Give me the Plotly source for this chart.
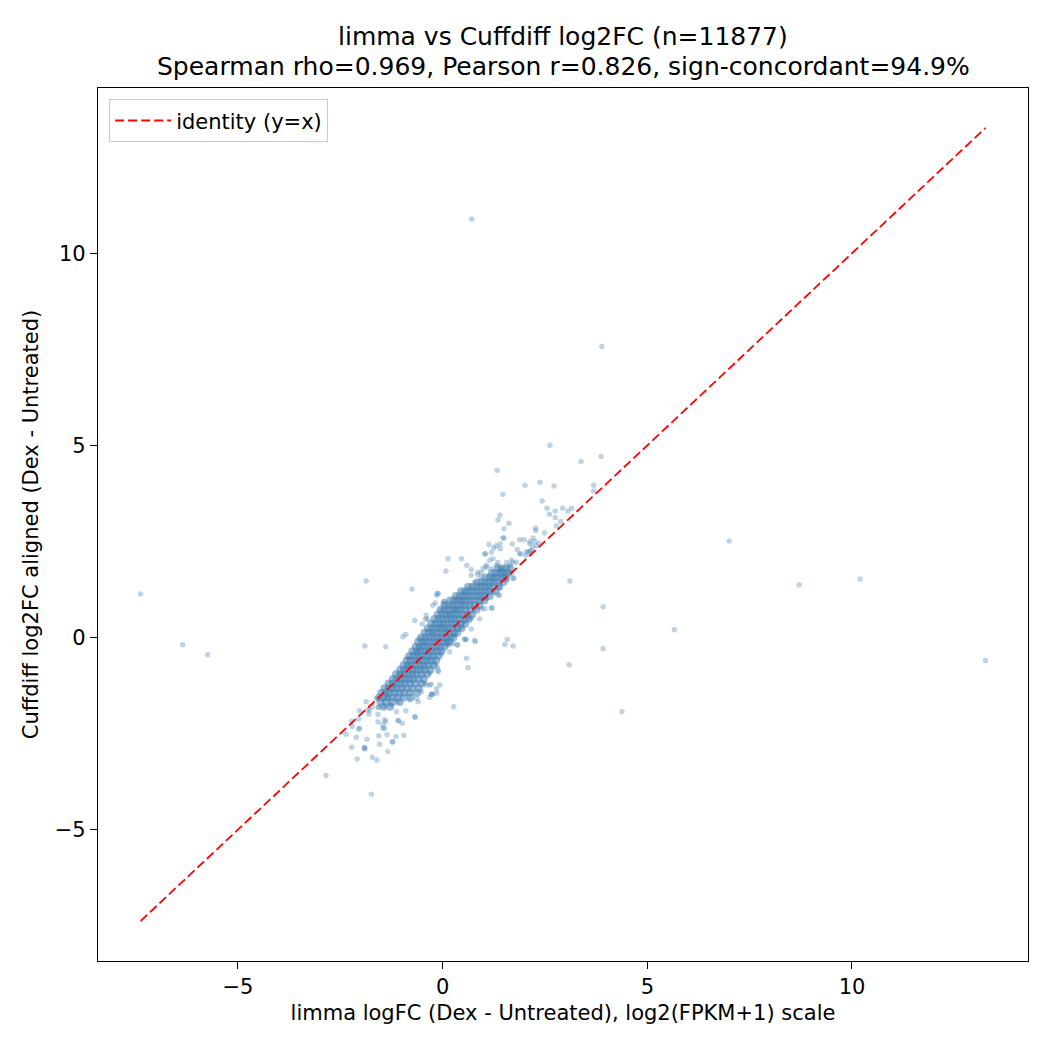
"""
Scatter of limma logFC against Cuffdiff log2FC with an identity line.
"""
import plotly.graph_objects as go

TITLE_LINES = ["limma vs Cuffdiff log2FC (n=11877)",
               "Spearman rho=0.969, Pearson r=0.826, sign-concordant=94.9%"]
X_LABEL = "limma logFC (Dex - Untreated), log2(FPKM+1) scale"
Y_LABEL = "Cuffdiff log2FC aligned (Dex - Untreated)"
TICK_VALS = [-5, 0, 5, 10]

# dense band of genes, read row by row: (cuffdiff value, [limma values])
core_rows = [
    (1.80, [1.35, 1.45, 1.55, 1.65]),
    (1.68, [1.20, 1.30, 1.40, 1.50, 1.60]),
    (1.56, [1.05, 1.15, 1.25, 1.35, 1.45, 1.55]),
    (1.44, [0.85, 0.95, 1.05, 1.15, 1.25, 1.35, 1.48]),
    (1.32, [0.62, 0.72, 0.82, 0.92, 1.02, 1.12, 1.22, 1.38]),
    (1.20, [0.45, 0.55, 0.65, 0.75, 0.85, 0.95, 1.05, 1.15, 1.30]),
    (1.08, [0.32, 0.42, 0.52, 0.62, 0.72, 0.82, 0.92, 1.02, 1.15]),
    (0.96, [0.18, 0.28, 0.38, 0.48, 0.58, 0.68, 0.78, 0.90, 1.02]),
    (0.84, [0.05, 0.15, 0.25, 0.35, 0.45, 0.55, 0.65, 0.78, 0.90]),
    (0.72, [-0.05, 0.05, 0.15, 0.25, 0.35, 0.45, 0.55, 0.68, 0.82]),
    (0.60, [-0.12, -0.02, 0.08, 0.18, 0.28, 0.38, 0.48, 0.60, 0.72]),
    (0.48, [-0.20, -0.10, 0.00, 0.10, 0.20, 0.30, 0.40, 0.52, 0.64]),
    (0.36, [-0.28, -0.18, -0.08, 0.02, 0.12, 0.22, 0.32, 0.44, 0.55]),
    (0.24, [-0.36, -0.26, -0.16, -0.06, 0.04, 0.14, 0.24, 0.36, 0.46]),
    (0.12, [-0.44, -0.34, -0.24, -0.14, -0.04, 0.06, 0.16, 0.28, 0.36]),
    (0.00, [-0.52, -0.42, -0.32, -0.22, -0.12, -0.02, 0.08, 0.18, 0.26]),
    (-0.12, [-0.60, -0.50, -0.40, -0.30, -0.20, -0.10, 0.00, 0.10, 0.17]),
    (-0.24, [-0.66, -0.56, -0.46, -0.36, -0.26, -0.16, -0.06, 0.04]),
    (-0.36, [-0.74, -0.64, -0.54, -0.44, -0.34, -0.24, -0.14, -0.03]),
    (-0.48, [-0.82, -0.72, -0.62, -0.52, -0.42, -0.32, -0.22, -0.10]),
    (-0.60, [-0.88, -0.78, -0.68, -0.58, -0.48, -0.38, -0.28, -0.16]),
    (-0.72, [-0.96, -0.86, -0.76, -0.66, -0.56, -0.46, -0.36, -0.22]),
    (-0.84, [-1.04, -0.94, -0.84, -0.74, -0.64, -0.54, -0.44, -0.30]),
    (-0.96, [-1.14, -1.04, -0.94, -0.84, -0.74, -0.64, -0.52, -0.38]),
    (-1.08, [-1.22, -1.12, -1.02, -0.92, -0.82, -0.72, -0.60, -0.46]),
    (-1.20, [-1.32, -1.22, -1.12, -1.02, -0.92, -0.80, -0.68, -0.52]),
    (-1.32, [-1.42, -1.32, -1.22, -1.12, -1.00, -0.88, -0.74, -0.58]),
    (-1.44, [-1.50, -1.40, -1.30, -1.18, -1.06, -0.94, -0.80, -0.62]),
    (-1.56, [-1.55, -1.45, -1.35, -1.22, -1.10, -0.95, -0.78]),
    (-1.68, [-1.52, -1.38, -1.22, -1.05]),
    (-1.80, [-1.45, -1.28]),
]

# isolated genes far from the band
far_points = [
    (-7.38, 1.13), (-6.35, -0.19), (-5.74, -0.45), (-2.85, -3.59), (-1.74, -4.08),
    (0.71, 10.89), (3.89, 7.57), (7.00, 2.51), (8.71, 1.37), (10.20, 1.52),
    (13.26, -0.60), (5.66, 0.20), (4.38, -1.93), (3.92, 0.80), (3.92, -0.29),
    (3.09, -0.71), (3.11, 1.47), (2.62, 5.00), (3.38, 4.58), (3.87, 4.71),
    (1.33, 4.35), (-1.87, 1.47), (-0.75, 1.26), (0.27, -1.80), (-1.90, -0.22),
    (-1.39, -0.24),
]

# spread above the band (upper right)
upper_points = [
    (2.01, 3.96), (2.38, 4.04), (2.72, 3.94), (3.69, 3.96), (3.69, 3.81),
    (1.47, 3.73), (2.43, 3.55), (2.55, 3.36), (2.75, 3.29), (2.93, 3.36),
    (3.15, 3.36), (3.06, 3.29), (2.61, 3.21), (2.75, 3.12), (1.40, 3.18),
    (1.35, 3.06), (1.62, 2.97), (1.50, 2.83), (2.27, 2.85), (2.27, 2.78),
    (2.78, 2.91), (2.88, 3.02), (2.49, 2.72), (1.47, 2.59), (0.13, 2.05),
    (0.08, 1.73), (1.13, 2.42), (1.40, 2.43), (1.41, 2.31), (1.70, 2.43),
    (1.88, 2.54), (1.99, 2.54), (2.13, 2.44), (2.21, 2.59), (1.82, 2.29),
    (1.91, 2.18), (2.03, 2.14), (2.14, 2.25), (1.04, 2.17), (1.25, 2.33),
    (1.23, 2.05), (0.99, 1.81), (0.70, 1.77), (0.86, 1.63), (1.35, 1.96),
    (1.56, 1.95), (1.68, 2.01), (2.29, 2.39), (1.31, 2.39), (1.50, 2.59),
    (2.17, 2.27), (1.15, 2.01), (1.80, 1.96), (1.07, 1.83), (1.43, 1.79),
    (1.52, 1.66), (1.74, 1.55), (1.22, 1.53), (2.13, 2.50), (2.25, 2.50),
    (2.09, 2.22), (1.88, 2.18), (1.64, 1.88), (1.39, 1.75), (1.56, 1.49),
    (1.19, 2.22), (1.03, 2.18), (1.72, 1.96), (0.95, 1.70), (0.59, 1.88),
    (0.46, 2.05), (1.65, 1.70), (2.20, 2.36), (2.35, 2.45), (2.05, 2.23),
]

# loose genes on both edges of the band
edge_points = [
    (-0.11, 1.14), (-0.24, 0.84), (0.01, 0.88), (-0.40, 0.58), (0.33, 0.75),
    (-0.13, 1.15), (-0.18, 0.90), (0.03, 0.94), (-0.68, 0.44), (-0.37, 0.48),
    (-0.50, 0.35), (-0.97, 0.02), (-0.90, 0.08), (-0.58, -0.03), (-0.60, -0.33),
    (-0.85, -0.54), (0.78, 1.44), (0.95, 1.57), (0.86, 1.70), (1.07, 1.88),
    (1.19, 1.79), (1.31, 1.88), (0.70, 1.62), (0.54, 1.19), (0.46, 0.97),
    (0.29, 0.75), (0.17, 0.62), (-0.03, 0.32), (-0.24, 0.10), (-0.44, -0.16),
    (-0.64, -0.42), (-0.85, -0.72), (-1.01, -0.98), (-1.17, -1.24), (-1.34, -1.50),
    (-0.15, 1.10), (0.05, 0.93), (-0.03, 0.71), (-0.42, 0.48), (-0.56, -0.24),
    (0.33, 1.01),
    (0.54, -0.05), (0.58, -0.05), (0.78, -0.07), (0.36, -0.18), (0.58, -0.54),
    (0.62, -0.79), (1.52, -0.18), (1.72, -0.22), (1.58, -0.05), (0.90, 0.48),
    (0.70, 0.22), (1.19, 0.77), (1.52, 1.57), (1.68, 1.66), (-0.40, -1.24),
    (-0.28, -1.22), (-0.26, -1.48), (-0.15, -1.45), (-0.11, -0.85), (-0.11, -0.89),
    (0.13, -0.20), (0.25, -0.16), (0.52, 0.41), (0.64, 0.49), (0.70, 0.51),
    (0.95, 0.75), (1.03, 0.75), (1.23, 1.18), (1.35, 1.10), (0.95, 1.01),
    (0.78, 0.75), (0.62, 0.54), (0.46, 0.28), (0.29, 0.06), (0.13, -0.16),
    (-0.03, -0.42), (-0.20, -0.67), (-0.32, -0.93), (-0.44, -1.19), (-0.52, -1.41),
    (-0.60, -1.67), (1.21, 0.77), (0.54, -0.04), (0.17, -0.37), (-0.13, -0.76),
    (-0.28, -1.48), (-0.15, -1.34), (1.39, 1.10), (1.39, 1.30), (1.72, 1.53),
    (1.07, 1.01), (0.36, -0.20), (0.80, -0.11), (-0.07, -1.24), (-0.25, -1.48),
    (-0.32, -1.24),
]

# spread below the band (lower left)
lower_points = [
    (-2.09, -3.16), (-2.22, -2.86), (-1.90, -2.90), (-1.61, -3.19), (-1.34, -2.97),
    (-2.36, -2.52), (-2.11, -2.60), (-1.85, -2.65), (-1.56, -2.56), (-1.36, -2.53),
    (-1.14, -2.58), (-0.95, -2.55), (-1.23, -2.73), (-2.05, -2.12), (-2.05, -2.38),
    (-1.84, -1.89), (-1.56, -1.80), (-1.58, -2.20), (-1.42, -2.36), (-1.08, -2.16),
    (-0.67, -2.08), (-0.90, -1.91), (-1.39, -2.19), (-1.13, -1.93), (-0.68, -2.06),
    (-0.99, -2.23), (-1.27, -1.76), (-1.42, -1.80), (-1.58, -1.82), (-1.78, -1.89),
    (-1.80, -2.00), (-1.58, -2.00), (-2.03, -1.91), (-2.21, -2.32), (-2.03, -2.36),
    (-1.22, -2.71), (-1.54, -2.78), (-1.91, -2.88), (-1.72, -3.12), (-1.46, -2.36),
    (-1.42, -2.14), (-1.46, -2.27), (-1.09, -2.17), (-1.87, -1.67), (-1.72, -1.80),
    (-1.62, -1.58), (-1.34, -1.58), (-1.09, -1.67), (-0.81, -1.63), (-0.64, -1.58),
    (-0.32, -1.56), (-1.91, -2.86), (-2.22, -2.18),
]

AXIS_RANGE = [-8.42, 14.30]
POINT_COLOR = "#4682B4"
FONT = "DejaVu Sans"

# the page body adds an 8px offset, so the figure is a bit smaller than the window
FIG_SIZE = 1042
MARGIN = dict(l=90, r=22, t=80, b=89)


def main() -> None:
    core_x = [x for y, xs in core_rows for x in xs]
    core_y = [y for y, xs in core_rows for x in xs]
    loose = far_points + upper_points + edge_points + lower_points
    loose_x = [p[0] for p in loose]
    loose_y = [p[1] for p in loose]

    all_vals = core_x + core_y + loose_x + loose_y
    lo, hi = min(all_vals), max(all_vals)

    fig = go.Figure()
    fig.add_trace(go.Scatter(
        x=core_x, y=core_y, mode="markers", showlegend=False, hoverinfo="skip",
        marker=dict(size=8, color=POINT_COLOR, opacity=0.55, line=dict(width=0)),
    ))
    fig.add_trace(go.Scatter(
        x=loose_x, y=loose_y, mode="markers", showlegend=False,
        marker=dict(size=5.5, color=POINT_COLOR, opacity=0.35, line=dict(width=0)),
    ))
    fig.add_trace(go.Scatter(
        x=[lo, hi], y=[lo, hi], mode="lines", name="identity (y=x)",
        line=dict(color="red", width=1.8, dash="9px,4px"),
    ))

    axis_style = dict(
        range=AXIS_RANGE, tickvals=TICK_VALS, showgrid=False, zeroline=False,
        showline=True, linecolor="black", linewidth=1.3, mirror=True,
        ticks="outside", ticklen=7, tickwidth=1.3, tickcolor="black",
        tickfont=dict(size=21, color="black", family=FONT),
    )

    plot_h = FIG_SIZE - MARGIN["t"] - MARGIN["b"]
    plot_bottom = FIG_SIZE - MARGIN["b"]
    title_centres = [29, 58]
    annotations = [
        dict(text=line, x=0.5, xref="paper", xanchor="center",
             y=(plot_bottom - yc) / plot_h, yref="paper", yanchor="middle",
             showarrow=False, font=dict(size=25, color="black", family=FONT))
        for line, yc in zip(TITLE_LINES, title_centres)
    ]

    fig.update_layout(
        width=FIG_SIZE, height=FIG_SIZE,
        margin=MARGIN,
        paper_bgcolor="white", plot_bgcolor="white",
        font=dict(family=FONT, color="black"),
        annotations=annotations,
        xaxis=dict(title=dict(text=X_LABEL, font=dict(size=21), standoff=6), **axis_style),
        yaxis=dict(title=dict(text=Y_LABEL, font=dict(size=21), standoff=10), **axis_style),
        legend=dict(x=0.012, y=0.987, xanchor="left", yanchor="top",
                    bgcolor="white", bordercolor="#cccccc", borderwidth=1,
                    itemwidth=56,
                    font=dict(size=21, family=FONT, color="black")),
    )
    fig.write_html("out.html")


if __name__ == "__main__":
    main()
